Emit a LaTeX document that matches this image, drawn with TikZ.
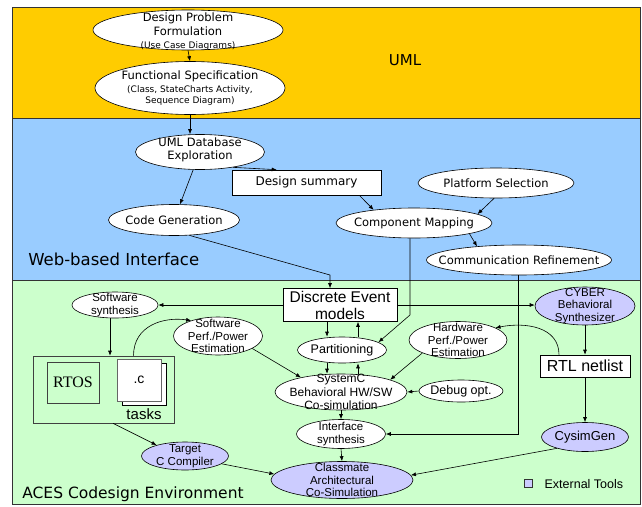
\documentclass[tikz,border=0pt]{standalone}
\usepackage{fontspec}
\setmainfont{Liberation Sans}
\newfontfamily\comic{DejaVu Sans}
\newfontfamily\rtosfont{Liberation Serif}
\usetikzlibrary{shapes.geometric,arrows.meta}
\definecolor{umlyellow}{HTML}{FFCC00}
\definecolor{webblue}{HTML}{99CCFF}
\definecolor{acesgreen}{HTML}{CCFFCC}
\definecolor{toolblue}{HTML}{CCCCFF}

\begin{document}
\begin{tikzpicture}[x=1pt,y=-1pt,line width=0.6pt,>={Latex[length=5pt,width=4pt]},
  ell/.style={ellipse,draw,fill=white,inner sep=0pt},
  tool/.style={ell,fill=toolblue},
  box/.style={draw,fill=white,inner sep=0pt},
  comictext/.style={font=\comic\fontsize{11.5}{13.5}\selectfont,align=center},
  arialtext/.style={font=\fontsize{11.5}{12.8}\selectfont,align=center}]
\useasboundingbox (0,0) rectangle (642,506);
\fill[umlyellow] (12,7) rectangle (640,118);
\fill[webblue] (12,118) rectangle (640,280);
\fill[acesgreen] (12,280) rectangle (640,504);
% outline
\draw[black!80,line width=0.8pt] (12,7) rectangle (640,504)
      (12,118) -- (640,118) (12,280) -- (640,280);

% UML
\node[ell,minimum width=190,minimum height=40,
  label={[comictext,yshift=-2]center:{Design Problem\\Formulation\\{\fontsize{9}{9}\selectfont(Use Case Diagrams)}}}] (dpf) at (188,30) {};
\node[ell,minimum width=190,minimum height=53,
  label={[comictext]center:{Functional Specification\\{\fontsize{9}{9}\selectfont(Class, StateCharts Activity,}\\[-2.5pt]{\fontsize{9}{9}\selectfont Sequence Diagram)}}}] (fs) at (190,88) {};
\node[font=\comic\fontsize{15}{15}\selectfont] (umltitle) at (405,60) {UML};

% Web-based Interface
\node[ell,minimum width=129,minimum height=35,label={[comictext,yshift=2]center:{UML Database\\Exploration}}] (umldb) at (200,152) {};
\node[box,minimum width=149,minimum height=25,font=\comic\fontsize{12}{12}\selectfont] (ds) at (306.5,182.5) {Design summary};
\node[ell,minimum width=156,minimum height=30,label={[comictext]center:Platform Selection}] (ps) at (496,183) {};
\node[ell,minimum width=131,minimum height=31,label={[comictext]center:Code Generation}] (cg) at (174,220) {};
\node[ell,minimum width=156,minimum height=30,label={[comictext]center:Component Mapping}] (cmap) at (414,223) {};
\node[ell,minimum width=185,minimum height=30,label={[comictext]center:Communication Refinement}] (cr) at (519,260) {};
\node[anchor=west,inner sep=0pt,font=\comic\fontsize{16.5}{16.5}\selectfont] (weblabel) at (28,259) {Web-based Interface};

% ACES Codesign Environment
\node[box,minimum width=114,minimum height=33,font=\fontsize{15.5}{17}\selectfont,align=center] (de) at (340,305) {Discrete Event\\models};
\node[ell,minimum width=86,minimum height=26,label={[arialtext]center:{Software\\synthesis}}] (swsyn) at (115,305) {};
\node[tool,minimum width=100,minimum height=38,label={[arialtext]center:{CYBER\\Behavioral\\Synthesizer}}] (cyber) at (585,306) {};
\node[ell,minimum width=89,minimum height=38,label={[arialtext]center:{Software\\Perf./Power\\Estimation}}] (swperf) at (218,336) {};
\node[ell,minimum width=89,minimum height=26,label={[arialtext,font=\fontsize{12.5}{12.5}\selectfont]center:Partitioning}] (part) at (342,350) {};
\node[ell,minimum width=98,minimum height=37,label={[arialtext]center:{Hardware\\Perf./Power\\Estimation}}] (hwperf) at (458,340) {};
\node[box,minimum width=90,minimum height=22,font=\fontsize{16}{16}\selectfont] (rtl) at (585,366) {RTL netlist};
\node[ell,minimum width=132,minimum height=36,label={[arialtext,font=\fontsize{12}{13.4}\selectfont]center:{SystemC\\Behavioral HW/SW\\Co-simulation}}] (sysc) at (341,392) {};
\node[ell,minimum width=84,minimum height=22,label={[arialtext,font=\fontsize{12.5}{12.5}\selectfont]center:Debug opt.}] (debug) at (461,391) {};
\node[ell,minimum width=89,minimum height=29,label={[arialtext]center:{Interface\\synthesis}}] (is) at (341,434) {};
\node[tool,minimum width=87,minimum height=29,label={[arialtext,font=\fontsize{13}{13}\selectfont]center:CysimGen}] (cysim) at (585,437) {};
\node[tool,minimum width=87,minimum height=28,label={[arialtext]center:{Target\\C Compiler}}] (targetc) at (185,456) {};
\node[tool,minimum width=142,minimum height=37,label={[arialtext]center:{Classmate\\Architectural\\Co-Simulation}}] (classmate) at (342,480) {};

\node[draw=black!75,minimum width=141,minimum height=67,inner sep=0pt] (tasks) at (103.5,389.5) {};
\node[draw=black!75,minimum width=52,minimum height=41,inner sep=0pt,font=\rtosfont\fontsize{16}{16}\selectfont] (rtos) at (73,382.5) {RTOS};
\node[box,minimum width=44,minimum height=42] (cback) at (144,384) {};
\node[box,draw=black!60,line width=1pt,minimum width=44,minimum height=42,font=\fontsize{14}{14}\selectfont] (cfile) at (139,380) {.c};
\node[font=\fontsize{15}{15}\selectfont] (taskslabel) at (144,414) {tasks};
\node[anchor=west,inner sep=0pt,font=\comic\fontsize{15.5}{15.5}\selectfont] (aceslabel) at (22,494) {ACES Codesign Environment};

\node[draw=black!80,fill=toolblue,minimum size=8,inner sep=0pt] (legendbox) at (528,483) {};
\node[anchor=west,font=\fontsize{12.5}{12.5}\selectfont] (legendtext) at (541,484) {External Tools};

% connectors
\draw[->] (dpf.south) -- (fs.north);
\draw[->] (fs.south) -- (fs.south |- umldb.north);
\draw[->] (umldb) -- (cg);
\draw[->] (umldb.-25) -- ([xshift=45]ds.north west);
\draw[->] ([xshift=-22]ds.south east) -- (cmap.162);
\draw[->] (ps.-97) -- (cmap.8);
\draw[->] (cmap.-11) -- (cr.162);
\coordinate (cgbend) at (330,275);
\draw[->] (cg.-45) -- (cgbend) -- (cgbend |- de.north);
\coordinate (cmbend) at (410,315);
\draw[->] (cmap.south -| cmbend) -- (cmbend) -- (part.12);
\coordinate (crbend) at (518,434);
\draw[->] (cr.south -| crbend) -- (crbend) -- (is.east);

\draw[->] (de.west) -- (swsyn.east);
\draw[->] (de.east) -- (de.east -| cyber.west);
\draw[->] ([xshift=-13]de.south) -- ([xshift=-15]part.north);
\draw[->] ([xshift=16]part.north) -- ([xshift=18]de.south);
\draw[->] ([xshift=-15]part.south) -- ([xshift=-14]sysc.north);
\draw[->] ([xshift=17]sysc.north) -- ([xshift=16]part.south);
\draw[->] (swperf.-20) -- (sysc.160);
\draw[->] (hwperf.200) -- (sysc.14);
\draw[->] (debug.west) -- (sysc.east);
\draw[->] ([xshift=-5]swsyn.south) -- ([xshift=6.5]tasks.north);
\draw[->] ([xshift=30]tasks.north) .. controls +(0,-30) and +(-28,-4) .. (swperf.150);
\draw[->] (cyber.south) -- (rtl.north);
\draw[->] ([xshift=-26]rtl.north) .. controls +(0,-28) and +(30,-6) .. (hwperf.18);
\draw[->] (rtl.south) -- (cysim.north);
\draw[->] (sysc.south) -- (is.north);
\draw[->] (is.south) -- (classmate.north);
\draw[->] (cysim.202) -- (classmate.4);
\draw[->] ([xshift=9.5]tasks.south) -- (targetc.159);
\draw[->] (targetc.-12) -- (classmate.175);
\end{tikzpicture}
\end{document}
